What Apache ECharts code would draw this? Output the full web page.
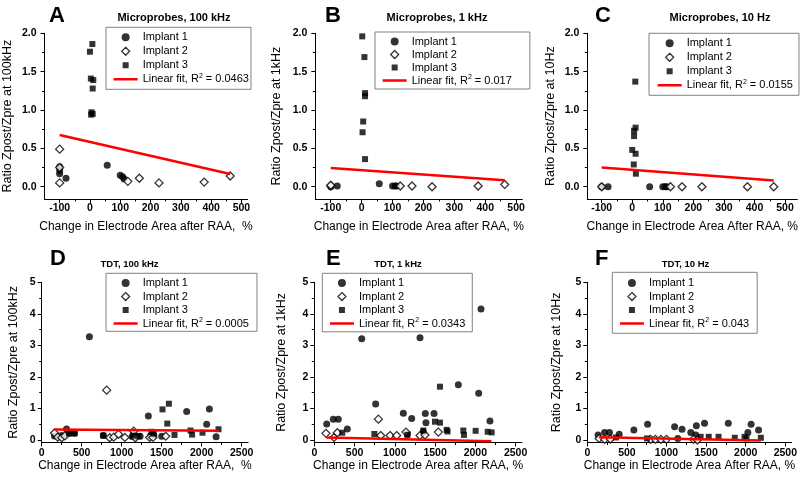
<!DOCTYPE html>
<html><head><meta charset="utf-8">
<script src="https://cdn.jsdelivr.net/npm/echarts@6/dist/echarts.min.js"></script>
<style>html,body{margin:0;padding:0;background:#fff}#c{width:800px;height:480px}</style>
</head><body><div id="c"></div>
<script>
// ---------- DATA ----------
const topXTicks = [-100, 0, 100, 200, 300, 400, 500];
const topXMinor = [-50, 50, 150, 250, 350, 450];
const topYTicks = [0, 0.5, 1, 1.5, 2];
const topYMinor = [0.25, 0.75, 1.25, 1.75];
const botXTicks = [0, 500, 1000, 1500, 2000, 2500];
const botXMinor = [250, 750, 1250, 1750, 2250];
const botYTicks = [0, 1, 2, 3, 4, 5];
const botYMinor = [0.5, 1.5, 2.5, 3.5, 4.5];

const seriesNames = ['Implant 1', 'Implant 2', 'Implant 3'];
const panelLetters = ['A', 'B', 'C', 'D', 'E', 'F'];
const panelTitles = ['Microprobes, 100 kHz', 'Microprobes, 1 kHz', 'Microprobes, 10 Hz', 'TDT, 100 kHz', 'TDT, 1 kHz', 'TDT, 10 Hz'];
const yNames = ['Ratio Zpost/Zpre at 100kHz', 'Ratio Zpost/Zpre at 1kHz', 'Ratio Zpost/Zpre at 10Hz', 'Ratio Zpost/Zpre at 100kHz', 'Ratio Zpost/Zpre at 1kHz', 'Ratio Zpost/Zpre at 10Hz'];
const xNames = ['Change in Electrode Area after RAA,  %', 'Change in Electrode Area after RAA, %', 'Change in Electrode Area After RAA, %', 'Change in Electrode Area after RAA,  %', 'Change in Electrode Area after RAA, %', 'Change in Electrode Area After RAA, %'];
const r2Values = ['0.0463', '0.017', '0.0155', '0.0005', '0.0343', '0.043'];

const A_imp1 = [[-100,0.26],[-100,0.21],[-100,0.17],[-79,0.11],[57,0.28],[100,0.15],[108,0.13],[113,0.10]];
const A_imp2 = [[-100,0.49],[-100,0.25],[-100,0.05],[125,0.07],[163,0.11],[228,0.05],[377,0.06],[463,0.14]];
const A_imp3 = [[8,1.86],[0,1.76],[3,1.41],[11,1.39],[9,1.28],[5,0.97],[9,0.95],[4,0.94]];
const A_fit  = [[-100,0.675],[463,0.165]];

const B_imp1 = [[-100,0.0],[-79,0.01],[57,0.04],[100,0.01],[108,0.01],[113,0.01]];
const B_imp2 = [[-100,0.01],[-100,0.02],[125,0.01],[163,0.01],[228,0.0],[377,0.01],[463,0.03]];
const B_imp3 = [[2,1.96],[9,1.69],[11,1.22],[11,1.18],[5,0.85],[3,0.71],[11,0.36]];
const B_fit  = [[-100,0.245],[463,0.085]];

const C_imp1 = [[-100,0.0],[-79,0.0],[57,0.0],[100,0.0],[108,0.0],[113,0.0]];
const C_imp2 = [[-100,0.0],[125,0.0],[163,0.0],[228,0.0],[377,0.0],[463,0.0]];
const C_imp3 = [[10,1.37],[11,0.77],[6,0.73],[6,0.66],[0,0.48],[11,0.43],[5,0.29],[12,0.17]];
const C_fit  = [[-100,0.25],[463,0.08]];

const D_imp1 = [[160,0.13],[250,0.14],[310,0.35],[340,0.22],[410,0.21],[596,3.27],[770,0.14],[1130,0.11],[1180,0.12],[1230,0.12],[1333,0.76],[1360,0.13],[1400,0.15],[1500,0.12],[1812,0.90],[2062,0.50],[2096,0.98],[2180,0.10]];
const D_imp2 = [[160,0.22],[200,0.09],[250,0.07],[290,0.13],[812,1.58],[850,0.07],[900,0.09],[960,0.18],[1040,0.08],[1150,0.28],[1170,0.07],[1350,0.08],[1390,0.08],[1550,0.12]];
const D_imp3 = [[340,0.20],[410,0.21],[770,0.14],[1140,0.14],[1210,0.12],[1370,0.26],[1400,0.20],[1510,0.97],[1570,0.52],[1590,1.15],[1660,0.16],[1860,0.30],[1880,0.17],[2010,0.23],[2210,0.34]];
const D_fit  = [[160,0.33],[2210,0.29]];

const E_imp1 = [[154,0.51],[236,0.66],[298,0.66],[410,0.35],[589,3.21],[762,1.14],[1106,0.85],[1156,0.19],[1210,0.68],[1313,3.24],[1354,0.26],[1379,0.84],[1387,0.55],[1487,0.84],[1789,1.75],[2042,1.48],[2071,4.15],[2182,0.60]];
const E_imp2 = [[145,0.21],[245,0.08],[286,0.23],[796,0.66],[825,0.14],[941,0.14],[1023,0.14],[1139,0.25],[1313,0.14],[1375,0.16],[1541,0.25]];
const E_imp3 = [[348,0.23],[746,0.19],[1156,0.16],[1354,0.30],[1499,0.58],[1561,0.55],[1561,1.69],[1644,0.32],[1655,0.27],[1851,0.30],[1859,0.16],[2004,0.29],[2154,0.26],[2203,0.24]];
const E_fit  = [[150,0.08],[2200,-0.04]];

const F_imp1 = [[136,0.16],[218,0.24],[280,0.24],[403,0.18],[588,0.32],[761,0.50],[1102,0.42],[1143,0.05],[1196,0.34],[1307,0.24],[1369,0.16],[1377,0.45],[1480,0.53],[1780,0.53],[2027,0.24],[2068,0.50],[2162,0.32]];
const F_imp2 = [[150,0.05],[220,0.02],[290,0.03],[800,0.02],[860,0.02],[930,0.02],[1000,0.02],[1340,0.02],[1390,0.0]];
const F_imp3 = [[362,0.08],[753,0.05],[1431,0.10],[1533,0.10],[1657,0.10],[1862,0.07],[1985,0.10],[2010,0.05],[2191,0.07]];
const F_fit  = [[150,0.09],[2190,-0.02]];

const panelData = [
  [A_imp1, A_imp2, A_imp3, A_fit],
  [B_imp1, B_imp2, B_imp3, B_fit],
  [C_imp1, C_imp2, C_imp3, C_fit],
  [D_imp1, D_imp2, D_imp3, D_fit],
  [E_imp1, E_imp2, E_imp3, E_fit],
  [F_imp1, F_imp2, F_imp3, F_fit]
];

// ---------- LAYOUT ----------
const FONT = '"Liberation Sans", Arial, sans-serif';
const geom = [
  {left:42,    top:33.3,  width:205.5, height:165.7, x:[-150,520], y:[-0.16,2], yGap:30.5, xGap:21.5, t:[174,18],   l:[49,16],  lg:{left:106,   top:27.3,  pad:[3,2,3,7],   lh:14}},
  {left:315.3, top:33.3,  width:207,   height:165.7, x:[-150,520], y:[-0.16,2], yGap:32,   xGap:21.5, t:[437,18],   l:[325,16], lg:{left:375,   top:32,    pad:[3,18,2,7],  lh:13}},
  {left:587.3, top:33.3,  width:211.7, height:165.7, x:[-147,540], y:[-0.16,2], yGap:30,   xGap:21.5, t:[720,18],   l:[595,16], lg:{left:649,   top:33.3,  pad:[3,6,3,8],   lh:14}},
  {left:41.7,  top:282.3, width:206.4, height:160.2, x:[0,2580],   y:[-0.08,5], yGap:22,   xGap:17,   t:[129.5,264],l:[50,259], lg:{left:106,   top:273.3, pad:[3,8,1,7],   lh:13.5}},
  {left:314.3, top:282.3, width:207.7, height:160.2, x:[0,2580],   y:[-0.08,5], yGap:26,   xGap:17,   t:[398,264],  l:[326,259],lg:{left:322.3, top:273.3, pad:[3,7,1.5,7], lh:13.5}},
  {left:587.3, top:282.3, width:209.2, height:160.2, x:[0,2580],   y:[-0.08,5], yGap:24,   xGap:17,   t:[685.5,264],l:[595,259],lg:{left:612.3, top:272.3, pad:[4,8,3,7],   lh:13.5}}
];

// Legend icons drawn in a 24x8 box (anchors keep the box size so shapes are not stretched)
const ICON_DIAMOND = 'path://M0,4L0.001,4M24,4L23.999,4M12,0L16,4L12,8L8,4Z';
const ICON_SQUARE  = 'path://M0,0L0.001,0M24,8L23.999,8M9,1H15V7H9Z';
const ICON_LINE    = 'path://M0,0L0.001,0M24,8L23.999,8M0,2.75H24V5.25H0Z';

const option = {animation:false, backgroundColor:'#fff', grid:[], xAxis:[], yAxis:[], series:[], legend:[], graphic:[]};

geom.forEach((g, i) => {
  const isTop = i < 3;
  option.grid.push({left:g.left, top:g.top, width:g.width, height:g.height, containLabel:false});
  const xt = isTop ? topXTicks : botXTicks, xm = isTop ? topXMinor : botXMinor;
  const yt = isTop ? topYTicks : botYTicks, ym = isTop ? topYMinor : botYMinor;
  const labelStyle = {color:'#000', fontSize:10.5, fontWeight:'bold', fontFamily:FONT};
  option.xAxis.push({
    type:'value', gridIndex:i, min:g.x[0], max:g.x[1], position:'bottom',
    axisLine:{show:true, onZero:false, lineStyle:{color:'#000', width:1}},
    axisTick:{show:true, inside:false, length:4, customValues:xt, lineStyle:{color:'#000', width:1}},
    axisLabel:Object.assign({show:true, customValues:xt, margin:isTop?4:5, formatter:v=>String(v)}, labelStyle),
    splitLine:{show:false},
    name:xNames[i], nameLocation:'middle', nameGap:g.xGap,
    nameTextStyle:{color:'#000', fontSize:12, fontFamily:FONT}
  });
  option.xAxis.push({
    type:'value', gridIndex:i, min:g.x[0], max:g.x[1], position:'bottom',
    axisLine:{show:false, onZero:false},
    axisTick:{show:true, inside:false, length:2.5, customValues:xm, lineStyle:{color:'#000', width:1}},
    axisLabel:{show:false}, splitLine:{show:false}
  });
  option.yAxis.push({
    type:'value', gridIndex:i, min:g.y[0], max:g.y[1], position:'left',
    axisLine:{show:true, onZero:false, lineStyle:{color:'#000', width:1}},
    axisTick:{show:true, inside:false, length:4, customValues:yt, lineStyle:{color:'#000', width:1}},
    axisLabel:Object.assign({show:true, customValues:yt, margin:isTop?8:6, formatter:v=> isTop ? v.toFixed(1) : String(v)}, labelStyle),
    splitLine:{show:false},
    name:yNames[i], nameLocation:'middle', nameGap:g.yGap,
    nameTextStyle:{color:'#000', fontSize:12.5, fontFamily:FONT}
  });
  option.yAxis.push({
    type:'value', gridIndex:i, min:g.y[0], max:g.y[1], position:'left',
    axisLine:{show:false, onZero:false},
    axisTick:{show:true, inside:false, length:2.5, customValues:ym, lineStyle:{color:'#000', width:1}},
    axisLabel:{show:false}, splitLine:{show:false}
  });

  const d = panelData[i];
  const fitName = 'Linear fit, R² = ' + r2Values[i];
  const ax = {xAxisIndex:2*i, yAxisIndex:2*i, silent:true};
  option.series.push(Object.assign({type:'scatter', name:seriesNames[0], data:d[0], symbol:'circle', symbolSize:7, itemStyle:{color:'#000'}}, ax));
  option.series.push(Object.assign({type:'scatter', name:seriesNames[1], data:d[1], symbol:'diamond', symbolSize:8, itemStyle:{color:'#fff', borderColor:'#000', borderWidth:1.3}}, ax));
  option.series.push(Object.assign({type:'scatter', name:seriesNames[2], data:d[2], symbol:'rect', symbolSize:6, itemStyle:{color:'#000'}}, ax));
  option.series.push(Object.assign({type:'line', name:fitName, data:d[3], symbol:'none', showSymbol:false, lineStyle:{color:'#ff0000', width:2.5}, itemStyle:{color:'#ff0000'}, z:5}, ax));

  option.legend.push({
    orient:'vertical', left:g.lg.left, top:g.lg.top, padding:g.lg.pad, itemGap:0,
    itemWidth:24, itemHeight:8, borderColor:'#808080', borderWidth:1, selectedMode:false,
    data:[
      {name:seriesNames[0], icon:'circle'},
      {name:seriesNames[1], icon:ICON_DIAMOND, itemStyle:{color:'#fff', borderColor:'#000', borderWidth:1.3}},
      {name:seriesNames[2], icon:ICON_SQUARE, itemStyle:{color:'#000', borderWidth:0}},
      {name:fitName, icon:ICON_LINE, itemStyle:{color:'#ff0000', borderWidth:0}}
    ],
    formatter: n => n.replace('²', '{sup|2}'),
    textStyle:{color:'#000', fontSize:11, fontFamily:FONT, lineHeight:g.lg.lh,
      rich:{sup:{fontSize:7, lineHeight:8, verticalAlign:'top', fontFamily:FONT, color:'#000'}}}
  });

  option.graphic.push({type:'text', x:g.t[0], y:g.t[1], silent:true,
    style:{text:panelTitles[i], fontSize:isTop?11:9.5, fontWeight:'bold', fontFamily:FONT, fill:'#000', align:'center', verticalAlign:'middle'}});
  option.graphic.push({type:'text', x:g.l[0], y:g.l[1], silent:true,
    style:{text:panelLetters[i], fontSize:22, fontWeight:'bold', fontFamily:FONT, fill:'#000', align:'left', verticalAlign:'middle'}});
});

const chart = echarts.init(document.getElementById('c'), null, {renderer:'canvas'});
chart.setOption(option);
</script>
</body></html>
